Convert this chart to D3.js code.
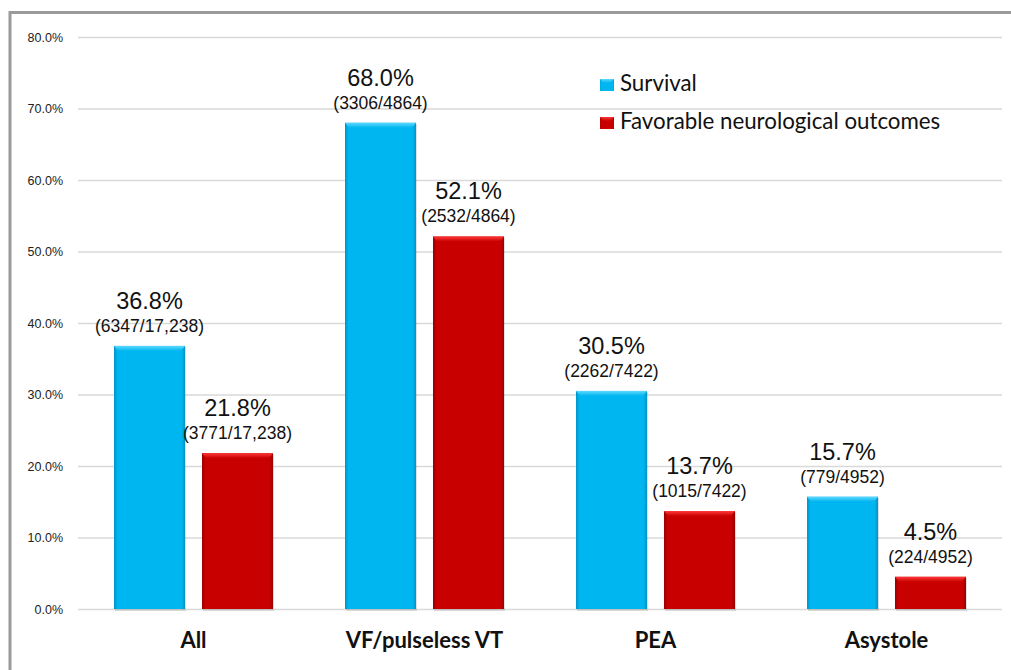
<!DOCTYPE html>
<html>
<head>
<meta charset="utf-8">
<script src="https://cdn.jsdelivr.net/npm/d3@7"></script>
<style>
  body { margin: 0; background: #fff; overflow: hidden; }
  svg { display: block; }
</style>
</head>
<body>
<svg id="chart" width="1011" height="670"></svg>
<script>
// data
var categories = ["All", "VF/pulseless VT", "PEA", "Asystole"];
var series_names = ["Survival", "Favorable neurological outcomes"];
var survival_values = [36.8, 68.0, 30.5, 15.7];
var favorable_values = [21.8, 52.1, 13.7, 4.5];
var survival_counts = ["(6347/17,238)", "(3306/4864)", "(2262/7422)", "(779/4952)"];
var favorable_counts = ["(3771/17,238)", "(2532/4864)", "(1015/7422)", "(224/4952)"];
var y_ticks = [0, 10, 20, 30, 40, 50, 60, 70, 80];

var colors = {
    "Survival": { main: "#00b6f0", light: "#5fd8ff", dark: "#0093c8" },
    "Favorable neurological outcomes": { main: "#c80000", light: "#ff3a3a", dark: "#9a0000" }
};

var svg = d3.select("#chart");
var plot_left = 78, plot_right = 1002, plot_top = 37, plot_bottom = 609;

// frame
svg.append("line").attr("x1", 10).attr("x2", 1011).attr("y1", 12.5).attr("y2", 12.5)
    .attr("stroke", "#9a9a9a").attr("stroke-width", 3);
svg.append("line").attr("x1", 10).attr("x2", 10).attr("y1", 11).attr("y2", 670)
    .attr("stroke", "#9a9a9a").attr("stroke-width", 3);

var y = d3.scaleLinear().domain([0, 80]).range([plot_bottom, plot_top]);
var x0 = d3.scaleBand().domain(categories).range([plot_left, plot_right]).padding(0);
var x1 = d3.scaleBand().domain(series_names).range([36, x0.bandwidth() - 36]).paddingInner(0.193);

// grid + y axis
var y_axis = d3.axisLeft(y).tickValues(y_ticks)
    .tickSize(-(plot_right - plot_left)).tickPadding(15)
    .tickFormat(function(d) { return d.toFixed(1) + "%"; });
var y_group = svg.append("g").attr("transform", "translate(" + plot_left + ",0)").call(y_axis);
y_group.select(".domain").remove();
y_group.selectAll(".tick line").attr("stroke", "#d9d9d9").attr("stroke-width", 1.3);
y_group.selectAll(".tick text").attr("font-family", "Liberation Sans, Arial, sans-serif")
    .attr("font-size", 12.5).attr("fill", "#222");

// gradients for the bevelled look
var defs = svg.append("defs");
series_names.forEach(function(name, i)
{
    var c = colors[name];
    var g = defs.append("linearGradient").attr("id", "grad" + i)
        .attr("x1", "0").attr("x2", "1").attr("y1", "0").attr("y2", "0");
    g.append("stop").attr("offset", "0").attr("stop-color", c.dark);
    g.append("stop").attr("offset", "0.05").attr("stop-color", c.main);
    g.append("stop").attr("offset", "0.95").attr("stop-color", c.main);
    g.append("stop").attr("offset", "1").attr("stop-color", c.dark);
    var t = defs.append("linearGradient").attr("id", "top" + i)
        .attr("x1", "0").attr("x2", "0").attr("y1", "0").attr("y2", "1");
    t.append("stop").attr("offset", "0").attr("stop-color", c.light);
    t.append("stop").attr("offset", "1").attr("stop-color", c.main);
});

var bar_data = [];
categories.forEach(function(cat, i)
{
    bar_data.push({ cat: cat, series: 0, name: series_names[0], value: survival_values[i], count: survival_counts[i] });
    bar_data.push({ cat: cat, series: 1, name: series_names[1], value: favorable_values[i], count: favorable_counts[i] });
});

var bars = svg.append("g").selectAll("g").data(bar_data).enter().append("g")
    .attr("transform", function(d) { return "translate(" + (x0(d.cat) + x1(d.name)) + ",0)"; });

// soft shadow
bars.append("rect")
    .attr("x", 1).attr("y", function(d) { return y(d.value) + 1; })
    .attr("width", x1.bandwidth()).attr("height", function(d) { return plot_bottom - y(d.value) + 1; })
    .attr("fill", "#000").attr("opacity", 0.12);
bars.append("rect")
    .attr("x", 0).attr("y", function(d) { return y(d.value); })
    .attr("width", x1.bandwidth()).attr("height", function(d) { return plot_bottom - y(d.value); })
    .attr("fill", function(d) { return "url(#grad" + d.series + ")"; });
// top bevel
bars.append("path")
    .attr("d", function(d)
    {
        var w = x1.bandwidth(), t = y(d.value);
        return "M0," + t + "H" + w + "L" + (w - 4) + "," + (t + 5) + "H4Z";
    })
    .attr("fill", function(d) { return "url(#top" + d.series + ")"; });

// value labels
bars.append("text")
    .attr("x", x1.bandwidth() / 2).attr("y", function(d) { return y(d.value) - 37; })
    .attr("text-anchor", "middle").attr("font-family", "Liberation Sans, Arial, sans-serif")
    .attr("font-size", 23.5).attr("fill", "#111")
    .text(function(d) { return d.value.toFixed(1) + "%"; });
bars.append("text")
    .attr("x", x1.bandwidth() / 2).attr("y", function(d) { return y(d.value) - 14; })
    .attr("text-anchor", "middle").attr("font-family", "Liberation Sans, Arial, sans-serif")
    .attr("font-size", 17.5).attr("fill", "#111")
    .text(function(d) { return d.count; });

// category labels
svg.append("g").selectAll("text").data(categories).enter().append("text")
    .attr("x", function(d) { return x0(d) + x0.bandwidth() / 2; })
    .attr("y", 648)
    .attr("text-anchor", "middle").attr("font-family", "Lato, sans-serif")
    .attr("font-weight", "bold").attr("font-size", 22).attr("fill", "#111")
    .text(function(d) { return d; });

// legend
var legend = svg.append("g").selectAll("g").data(series_names).enter().append("g")
    .attr("transform", function(d, i) { return "translate(600," + (79 + i * 38) + ")"; });
legend.append("rect").attr("width", 14).attr("height", 12)
    .attr("fill", function(d, i) { return "url(#grad" + i + ")"; });
legend.append("path").attr("d", "M0,0H14L10,4H4Z")
    .attr("fill", function(d, i) { return "url(#top" + i + ")"; });
legend.append("text").attr("x", 20).attr("y", 12)
    .attr("font-family", "Lato, sans-serif").attr("font-size", 22.3).attr("fill", "#111")
    .text(function(d) { return d; });
</script>
</body>
</html>
